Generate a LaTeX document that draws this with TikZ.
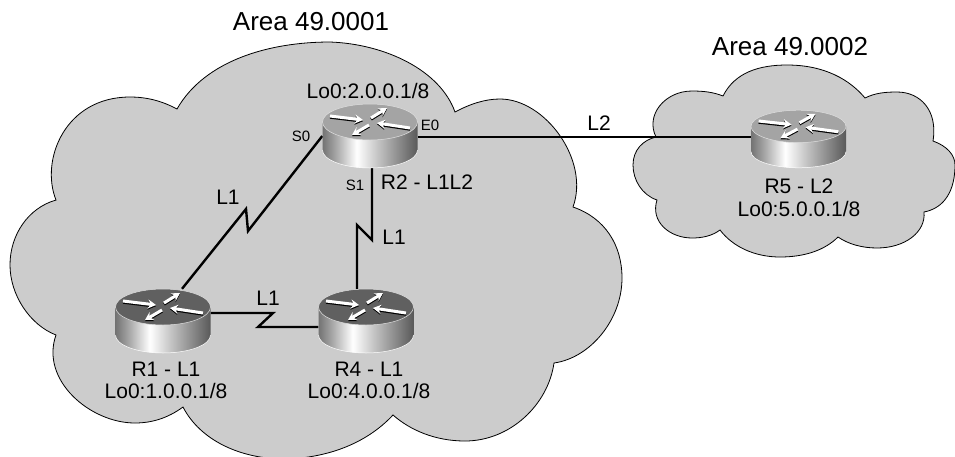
\documentclass[tikz,border=0pt]{standalone}
\usepackage{fontspec}
\setmainfont{Liberation Sans}
\usetikzlibrary{arrows.meta,positioning}

\definecolor{cloudgray}{HTML}{CCCCCC}
\definecolor{darktop}{HTML}{606060}
\definecolor{lighttop}{HTML}{A4A4A4}
\pgfdeclarehorizontalshading{routershade}{100bp}{color(0bp)=(black!55); color(25bp)=(black!55);
  color(32bp)=(black!35); color(43bp)=(white); color(55bp)=(gray!50!white); color(75bp)=(black!65); color(100bp)=(black!65)}

% node name, colour of the lid, height factor
\newcommand{\routerbody}[3]{
  \begin{scope}[shift={(#1.center)},yscale=#3]
    \shade[shading=routershade] (-47.5,-14) -- (-47.5,14) .. controls (-47.5,24) and (-26,32) .. (0,32)
      .. controls (26,32) and (47.5,24) .. (47.5,14) -- (47.5,-14) -- cycle;
    \draw[white,line width=.5pt] (-47.5,14) .. controls (-47.5,24) and (-26,32) .. (0,32)
      .. controls (26,32) and (47.5,24) .. (47.5,14);
    \draw[fill=#2,draw=white!75!gray,line width=.5pt] (0,-14) ellipse [x radius=47.5,y radius=18];
    \draw[router arrow] (-40,-20) -- (-7,-16);
    \draw[router arrow] (1,-18) -- (17,-28);
    \draw[router arrow] (40,-8) -- (7,-13);
    \draw[router arrow] (-1,-11) -- (-18,-1);
  \end{scope}
}

\begin{document}
\begin{tikzpicture}[x=1pt,y=-1pt,
    cloud/.style={draw=black,fill=cloudgray,line width=.8pt},
    link/.style={draw=black,line width=2.4pt,line join=miter},
    router box/.style={rectangle,inner sep=0pt,minimum width=95pt},
    router arrow/.style={white,line width=3pt,-{Stealth[length=8pt,width=9pt]},
      preaction={draw=black,line width=3pt,transform canvas={yshift=-1.2pt}}},
    big label/.style={font=\fontsize{26}{30}\selectfont,inner sep=0pt},
    name label/.style={font=\fontsize{21}{25}\selectfont,inner sep=0pt},
    port label/.style={font=\fontsize{15}{18}\selectfont,inner sep=0pt}]

  \useasboundingbox (0,0) rectangle (955,456);

  % area clouds
  \path[cloud] (177,109) .. controls (205,60) and (270,42) .. (330,42) .. controls (385,44) and (440,70) .. (455,112)
    .. controls (470,104) and (485,99) .. (500,99) .. controls (545,99) and (590,160) .. (573,207)
    .. controls (605,218) and (622,245) .. (622,278) .. controls (622,320) and (590,358) .. (554,363)
    .. controls (548,405) and (510,441) .. (465,441) .. controls (435,441) and (410,430) .. (393,415)
    .. controls (365,445) and (325,458) .. (285,459) .. controls (240,459) and (200,440) .. (183,407)
    .. controls (168,418) and (152,423) .. (135,423) .. controls (90,423) and (40,380) .. (56,335)
    .. controls (30,325) and (10,295) .. (10,265) .. controls (10,235) and (28,208) .. (56,200)
    .. controls (40,160) and (65,97) .. (130,97) .. controls (147,97) and (162,101) .. (177,109) -- cycle;
  \path[cloud] (723,96) .. controls (735,72) and (760,65) .. (787,65) .. controls (825,65) and (850,80) .. (865,98)
    .. controls (875,93) and (885,92) .. (897,92) .. controls (920,92) and (938,110) .. (933,141)
    .. controls (947,146) and (955,155) .. (955,165) .. controls (955,190) and (945,208) .. (924,212)
    .. controls (926,232) and (905,248) .. (877,248) .. controls (862,248) and (848,244) .. (838,237)
    .. controls (825,250) and (805,257) .. (780,257) .. controls (755,257) and (733,247) .. (720,230)
    .. controls (712,236) and (702,238) .. (692,238) .. controls (670,238) and (650,222) .. (657,200)
    .. controls (642,195) and (633,180) .. (633,165) .. controls (633,150) and (643,140) .. (656,137)
    .. controls (645,115) and (665,91) .. (692,91) .. controls (703,91) and (713,92) .. (723,96) -- cycle;

  \node[big label] (area1) at (311,22) {Area 49.0001};
  \node[big label] (area2) at (790,47) {Area 49.0002};

  % routers
  \node[router box,minimum height=64pt] (r2) at (370,136) {};
  \node[router box,minimum height=64pt] (r1) at (163,321) {};
  \node[router box,minimum height=64pt] (r4) at (366,321) {};
  \node[router box,minimum height=58pt] (r5) at (798.5,139) {};

  % serial links
  \coordinate (z12a) at (248,231);
  \coordinate (z12b) at (246,209);
  \coordinate (z14a) at (273,313);
  \coordinate (z14b) at (258,327);
  \coordinate (z24a) at (372,240);
  \coordinate (z24b) at (357,225);

  \draw[link] ([xshift=19pt]r1.north) -- (z12b) -- (z12a) -- (r2.west);
  \draw[link] ([yshift=8pt]r1.east) -- (z14a) -- (z14b) -- ([yshift=-6pt]r4.west);
  \draw[link] ([xshift=2pt]r2.south) -- (z24a) -- (z24b) -- ([xshift=-9pt]r4.north);
  \draw[link] ([yshift=-1pt]r2.east) -- ([yshift=2pt]r5.west);

  \routerbody{r2}{lighttop}{1}
  \routerbody{r1}{darktop}{1}
  \routerbody{r4}{darktop}{1}
  \routerbody{r5}{lighttop}{.9}

  % labels
  \node[name label] (r2lo) at (368,91) {Lo0:2.0.0.1/8};
  \node[name label] (r2name) at (427,182) {R2 - L1L2};
  \node[name label] (r1name) at (166,369) {R1 - L1};
  \node[name label] (r1lo) [below=7pt of r1name] {Lo0:1.0.0.1/8};
  \node[name label] (r4name) at (369,369) {R4 - L1};
  \node[name label] (r4lo) [below=7pt of r4name] {Lo0:4.0.0.1/8};
  \node[name label] (r5name) at (799,186) {R5 - L2};
  \node[name label] (r5lo) [below=7pt of r5name] {Lo0:5.0.0.1/8};

  \node[name label] (l12) at (228,197) {L1};
  \node[name label] (l14) at (268,298) {L1};
  \node[name label] (l24) at (394,237) {L1};
  \node[name label] (l25) at (599,123) {L2};

  \node[port label] (s0) at (301,136) {S0};
  \node[port label] (s1) at (355,185) {S1};
  \node[port label] (e0) at (430,125) {E0};

\end{tikzpicture}
\end{document}
